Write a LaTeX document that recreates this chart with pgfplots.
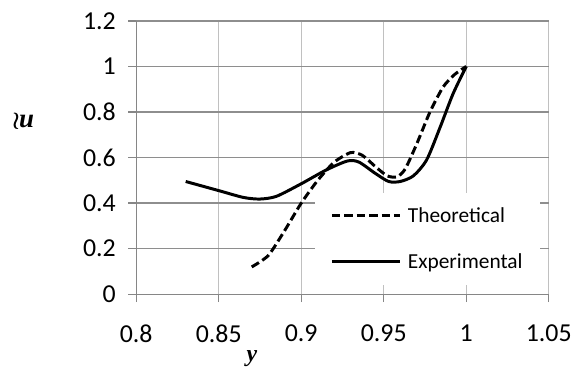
\documentclass[border=0pt]{standalone}
\usepackage{pgfplots}
\pgfplotsset{compat=1.18}
\usepackage{fontspec}
\setmainfont{Carlito}
\newfontfamily\serifbi{Liberation Serif}

\definecolor{axisgray}{HTML}{868686}
\definecolor{hgrid}{HTML}{8E8E8E}
\definecolor{vgrid}{HTML}{C0C0C0}

\begin{document}
\begin{tikzpicture}
\begin{axis}[
  name=ax,
  at={(0,0)}, anchor=south west,
  scale only axis,
  width=415pt, height=275pt,
  xmin=0.8, xmax=1.05,
  ymin=0, ymax=1.2,
  clip=false,
  xtick={0.8,0.85,...,1.051},
  ytick={0,0.2,...,1.21},
  xticklabels={0.8,0.85,0.9,0.95,1,1.05},
  yticklabels={0,0.2,0.4,0.6,0.8,1,1.2},
  tick pos=left,
  tick align=outside,
  major tick length=8pt,
  tick style={axisgray, line width=1.4pt},
  axis line style={draw=none},
  xmajorgrids, ymajorgrids,
  x grid style={vgrid, line width=1.4pt},
  y grid style={hgrid, line width=1.4pt},
  every tick label/.append style={font=\fontsize{26}{30}\selectfont},
  yticklabel style={xshift=-9pt},
  xticklabel style={yshift=-19pt},
  legend style={
    at={(0.434,0.033)}, anchor=south west,
    fill=white, draw=none,
    font=\fontsize{21.5}{26}\selectfont,
    inner xsep=15pt, inner ysep=13pt,
    row sep=26pt, column sep=4pt,
  },
  legend cell align=left,
  legend image code/.code={\draw[#1] (0pt,0pt) -- (69pt,0pt);},
]
% axis frame: darker left and bottom lines
\draw[axisgray, line width=1.4pt] (rel axis cs:0,0) -- (rel axis cs:0,1);
\draw[axisgray, line width=1.4pt] (rel axis cs:0,0) -- (rel axis cs:1,0);

\addplot[black, line width=3pt, dash pattern=on 8.5pt off 4pt, smooth, tension=0.4] coordinates {
  (0.870,0.120) (0.880,0.170) (0.890,0.280) (0.900,0.400) (0.910,0.500)
  (0.920,0.580) (0.930,0.622) (0.937,0.610) (0.945,0.560) (0.952,0.520)
  (0.958,0.515) (0.963,0.550) (0.970,0.660) (0.978,0.800) (0.986,0.910)
  (0.993,0.965) (1.000,1.000)
};
\addlegendentry{Theoretical}

\addplot[black, line width=3pt, smooth, tension=0.45] coordinates {
  (0.830,0.495) (0.850,0.455) (0.865,0.425) (0.875,0.418) (0.885,0.430)
  (0.900,0.485) (0.915,0.545) (0.928,0.585) (0.935,0.580) (0.945,0.530)
  (0.953,0.495) (0.960,0.495) (0.968,0.520) (0.976,0.590) (0.984,0.730)
  (0.992,0.880) (1.000,1.000)
};
\addlegendentry{Experimental}

% dependent-variable label: wavy mark beside the u
\node[font=\serifbi\bfseries\itshape\fontsize{27}{30}\selectfont, inner sep=0pt, anchor=west]
  at ([shift={(-125pt,36pt)}]rel axis cs:0,0.5)
  {{\boldmath$\wr$}\kern-1pt u};
\node[font=\serifbi\bfseries\itshape\fontsize{24}{28}\selectfont, inner sep=0pt]
  at ([shift={(-91pt,-65pt)}]rel axis cs:0.5,0) {y};
\end{axis}
\path[use as bounding box] ([shift={(-137pt,-73pt)}]ax.south west) rectangle ([shift={(23pt,21pt)}]ax.north east);
\end{tikzpicture}
\end{document}
